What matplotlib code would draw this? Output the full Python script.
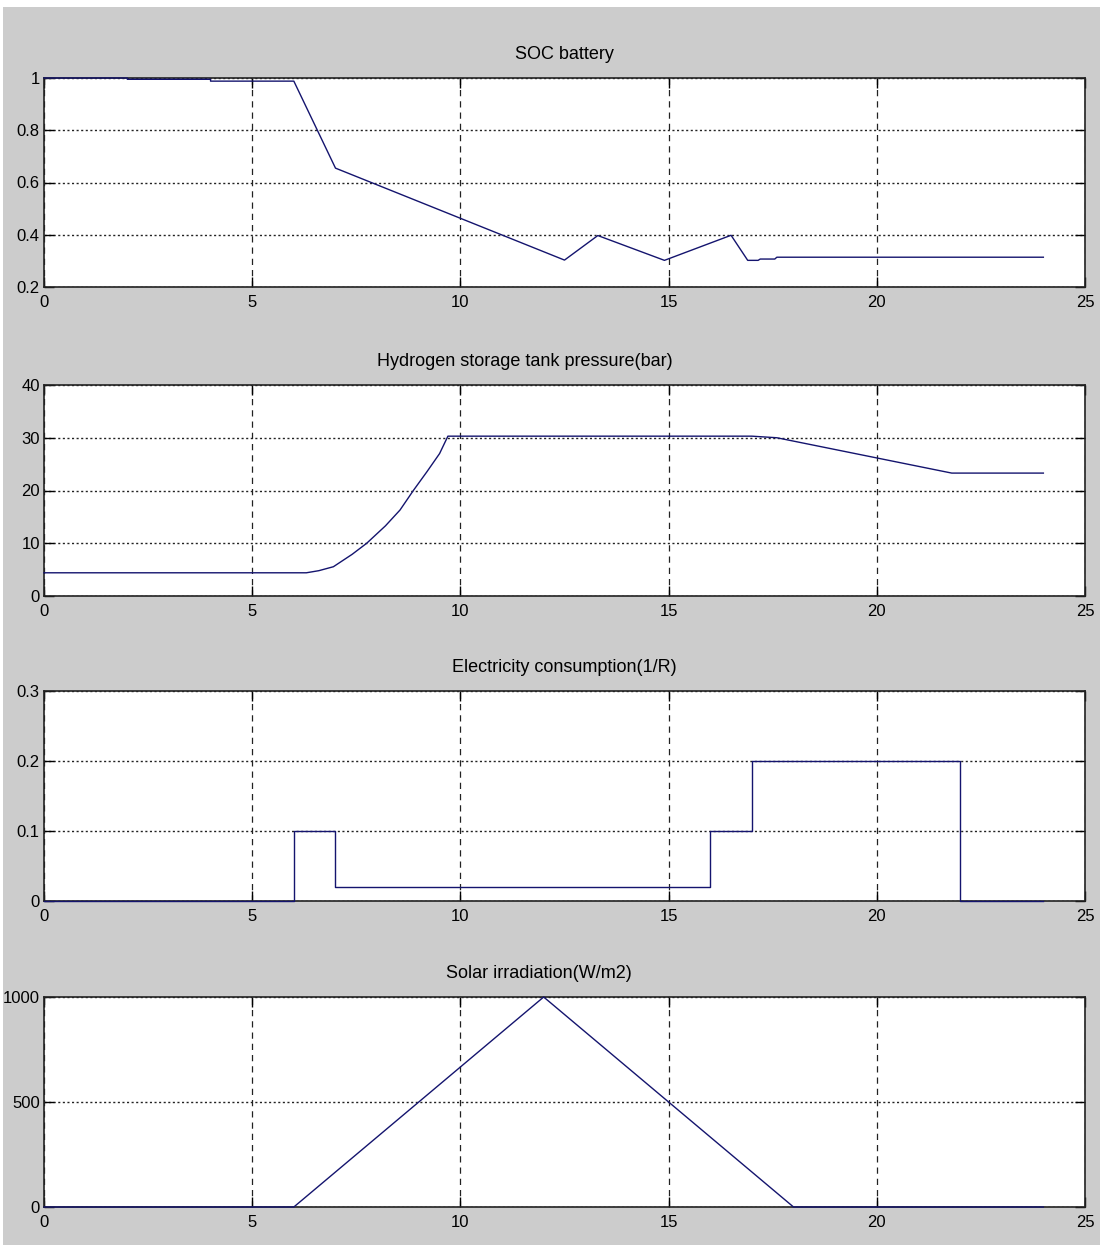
import matplotlib.pyplot as plt
from matplotlib.patches import Rectangle

plt.rcParams['font.family'] = ['Liberation Sans', 'DejaVu Sans']

# SOC battery
soc_t = [0, 2, 2, 4, 4, 6, 7, 12.5, 13.3, 14.9, 16.5, 16.9, 17.15, 17.2, 17.55, 17.6, 24]
soc_v = [1.0, 1.0, 0.995, 0.995, 0.988, 0.988, 0.655, 0.303, 0.397, 0.302, 0.398,
         0.302, 0.302, 0.307, 0.307, 0.314, 0.314]

# hydrogen tank pressure (bar)
h2_t = [0, 6.3, 6.6, 6.95, 7.4, 7.75, 8.2, 8.55, 8.87, 9.2, 9.5, 9.7, 17.0, 17.6, 21.8, 24]
h2_v = [4.4, 4.4, 4.8, 5.55, 7.9, 10, 13.3, 16.3, 20, 23.6, 27, 30.3, 30.3, 30.0, 23.3, 23.3]

# electricity consumption (1/R), piecewise constant
elec_t = [0, 6, 7, 16, 17, 22, 24]
elec_v = [0, 0.1, 0.02, 0.1, 0.2, 0, 0]

# solar irradiation (W/m2)
sol_t = [0, 6, 12, 18, 24]
sol_v = [0, 0, 1000, 0, 0]

W, H = 1104, 1250
fig = plt.figure(figsize=(W / 100, H / 100), dpi=100, facecolor='white')
fig.patches.append(Rectangle((3 / W, 1 - 1245 / H), 1097 / W, 1238 / H,
                             transform=fig.transFigure, facecolor='#cccccc',
                             edgecolor='none', zorder=-10))

left, right = 44, 1085
boxes = [(78, 287), (385, 596), (691, 901), (997, 1207)]
line_c = '#14146e'
fs = 12


def make_ax(top, bot):
    ax = fig.add_axes([left / W, 1 - bot / H, (right - left) / W, (bot - top) / H])
    ax.set_facecolor('white')
    ax.set_xlim(0, 25)
    ax.set_xticks([0, 5, 10, 15, 20, 25])
    ax.set_xticklabels(['0', '5', '10', '15', '20', '25'])
    ax.tick_params(direction='in', length=7, width=1, top=True, right=True,
                   labelsize=fs, pad=6, colors='black')
    ax.tick_params(axis='y', pad=3)
    for s in ax.spines.values():
        s.set_linewidth(1.2)
        s.set_color('#222222')
    ax.xaxis.grid(True, color='#222222', linestyle=(0, (5, 4)), linewidth=0.9)
    ax.yaxis.grid(True, color='#222222', linestyle=(0, (1.5, 1.8)), linewidth=1.0)
    ax.set_axisbelow(True)
    return ax


ax1 = make_ax(*boxes[0])
ax1.plot(soc_t, soc_v, color=line_c, lw=1.0, clip_on=False, zorder=3)
ax1.set_ylim(0.2, 1)
ax1.set_yticks([0.2, 0.4, 0.6, 0.8, 1.0])
ax1.set_yticklabels(['0.2', '0.4', '0.6', '0.8', '1'])
ax1.set_title('SOC battery', fontsize=13, pad=14)

ax2 = make_ax(*boxes[1])
ax2.plot(h2_t, h2_v, color=line_c, lw=1.0, clip_on=False, zorder=3)
ax2.set_ylim(0, 40)
ax2.set_yticks([0, 10, 20, 30, 40])
ax2.set_yticklabels(['0', '10', '20', '30', '40'])
ax2.set_title('Hydrogen storage tank pressure(bar)', fontsize=13, pad=14, x=0.462)

ax3 = make_ax(*boxes[2])
ax3.step(elec_t, elec_v, where='post', color=line_c, lw=1.0, clip_on=False, zorder=3)
ax3.set_ylim(0, 0.3)
ax3.set_yticks([0, 0.1, 0.2, 0.3])
ax3.set_yticklabels(['0', '0.1', '0.2', '0.3'])
ax3.set_title('Electricity consumption(1/R)', fontsize=13, pad=14)

ax4 = make_ax(*boxes[3])
ax4.plot(sol_t, sol_v, color=line_c, lw=1.0, clip_on=False, zorder=3)
ax4.set_ylim(0, 1000)
ax4.set_yticks([0, 500, 1000])
ax4.set_yticklabels(['0', '500', '1000'])
ax4.set_title('Solar irradiation(W/m2)', fontsize=13, pad=14, x=0.475)

fig.savefig('out.png', dpi=100, facecolor=fig.get_facecolor())
